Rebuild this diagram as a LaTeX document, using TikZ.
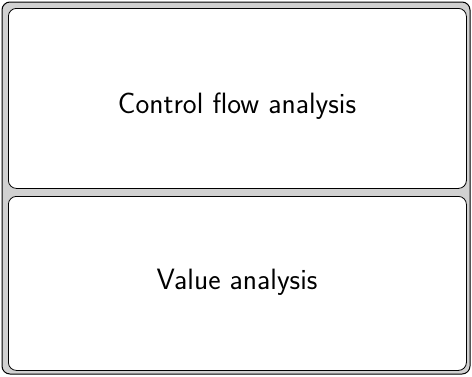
\documentclass[tikz,border=0pt]{standalone}
\usepackage{tikz}
\tikzset{
  x=1bp,y=-1bp,
  outerbox/.style={draw=black,fill=black!18,rounded corners=8bp,line width=1bp},
  innerbox/.style={draw=black,fill=white,rounded corners=8bp,line width=0.8bp},
  lbl/.style={font=\sffamily\fontsize{29.5}{34}\selectfont,anchor=base,inner sep=0pt}
}
\begin{document}
\begin{tikzpicture}
\useasboundingbox (0,0) rectangle (472,376);
\draw[outerbox] (2,2) rectangle (470,374);
\node[innerbox,minimum width=458bp,minimum height=180bp,anchor=north west] (top) at (8,8) {};
\node[innerbox,minimum width=458bp,minimum height=174bp,anchor=north west] (bot) at (8,196) {};
\node[lbl] (cfa) at (237,113) {Control flow analysis};
\node[lbl] (va) at (237,289) {Value analysis};
\end{tikzpicture}
\end{document}
